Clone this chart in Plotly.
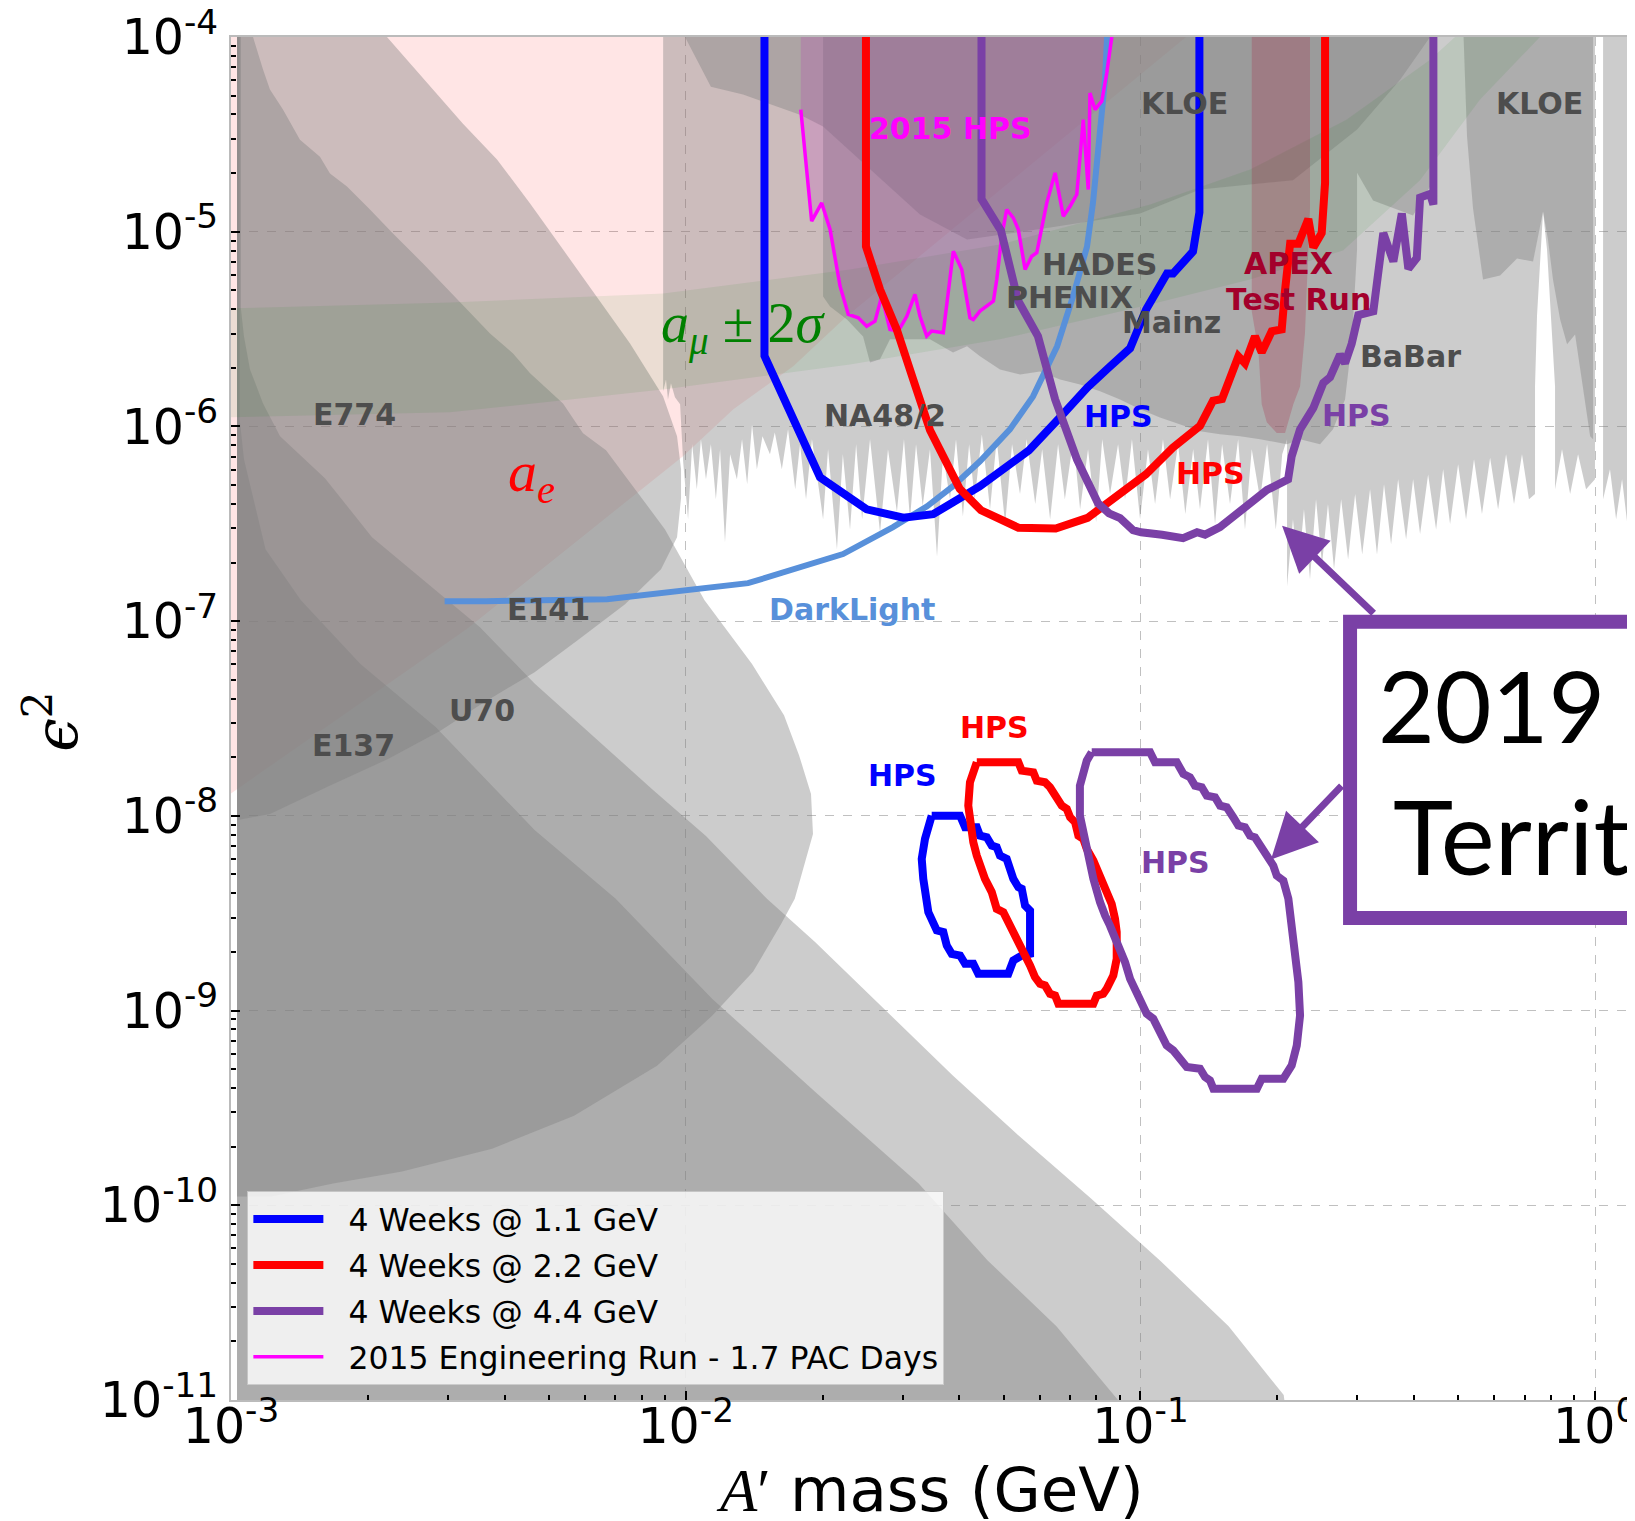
import numpy as np
import plotly.graph_objects as go

# ---------------- colours ----------------
BLUE = "#0000FF"
RED = "#FF0000"
PURPLE = "#7A40A6"
MAGENTA = "#FF00FF"
DLBLUE = "#5890DA"
GRAY_TXT = "#4D4D4D"
APEX_TXT = "#A3002B"
LAYER = "rgba(128,128,128,0.4)"

# ---------------- HPS reach (upper curves) ----------------
hps11_m = [0.0149, 0.0149, 0.01974, 0.0250, 0.0301, 0.0350, 0.04437, 0.0569, 0.0669, 0.0765, 0.0853,
           0.0949, 0.1029, 0.1144, 0.118, 0.1305, 0.1348, 0.1348]
hps11_e = [1.2e-4, 2.30e-6, 5.48e-7, 3.75e-7, 3.40e-7, 3.54e-7, 4.93e-7, 7.54e-7, 1.127e-6, 1.59e-6, 2.01e-6,
           2.52e-6, 3.99e-6, 6.10e-6, 6.10e-6, 7.91e-6, 1.255e-5, 1.2e-4]

hps22_m = [0.02491, 0.02491, 0.02675, 0.02911, 0.03163, 0.03446, 0.04005, 0.04460, 0.05389, 0.06511, 0.0765,
           0.0899, 0.1029, 0.1178, 0.1352, 0.1444, 0.1512, 0.1642, 0.1698, 0.1786, 0.1848, 0.1944, 0.2045,
           0.2080, 0.2134, 0.2225, 0.2340, 0.2400, 0.2504, 0.2547, 0.2547]
hps22_e = [1.2e-4, 8.42e-6, 5.05e-6, 3.15e-6, 1.746e-6, 9.55e-7, 4.78e-7, 3.71e-7, 3.02e-7, 2.99e-7, 3.39e-7,
           4.52e-7, 5.68e-7, 7.78e-7, 1.007e-6, 1.355e-6, 1.384e-6, 2.29e-6, 2.11e-6, 2.90e-6, 2.40e-6, 3.08e-6,
           3.15e-6, 5.01e-6, 8.67e-6, 8.67e-6, 1.164e-5, 8.31e-6, 9.84e-6, 1.776e-5, 1.2e-4]

hps44_m = [0.04472, 0.04472, 0.04935, 0.05380, 0.05953, 0.06492, 0.07255, 0.08067, 0.0853, 0.0902, 0.0963,
           0.1003, 0.1116, 0.1241, 0.1332, 0.1387, 0.1496, 0.1742, 0.1898, 0.2112, 0.2151, 0.2244, 0.2400,
           0.2524, 0.2612, 0.2748, 0.2818, 0.2915, 0.3014, 0.3252, 0.3421, 0.3599, 0.3757, 0.3883, 0.4052,
           0.4121, 0.4335, 0.4408, 0.4408]
hps44_e = [1.2e-4, 1.472e-5, 1.014e-5, 4.43e-6, 2.90e-6, 1.377e-6, 6.74e-7, 4.03e-7, 3.58e-7, 3.38e-7, 2.93e-7,
           2.86e-7, 2.78e-7, 2.67e-7, 2.86e-7, 2.78e-7, 3.04e-7, 3.98e-7, 4.72e-7, 5.35e-7, 7.03e-7, 9.66e-7,
           1.245e-6, 1.671e-6, 1.786e-6, 2.34e-6, 2.11e-6, 2.66e-6, 3.73e-6, 3.90e-6, 9.84e-6, 7.03e-6,
           1.240e-5, 6.46e-6, 7.32e-6, 1.498e-5, 1.564e-5, 1.379e-5, 1.2e-4]

# ---------------- HPS reach (lower closed contours) ----------------
loop11_m = [0.03475, 0.04012, 0.04115, 0.04366, 0.04437, 0.04592, 0.0471, 0.0483, 0.0491, 0.0508, 0.05253,
            0.05389, 0.05483, 0.05575, 0.05718, 0.05718, 0.05483, 0.05253, 0.05122, 0.04399, 0.0429, 0.04115,
            0.04012, 0.03846, 0.03750, 0.03685, 0.03565, 0.03416, 0.03330, 0.03304, 0.03359, 0.03388, 0.03475]
loop11_e = [1.002e-8, 1.002e-8, 8.74e-9, 8.74e-9, 7.91e-9, 7.76e-9, 7.03e-9, 6.90e-9, 6.25e-9, 6.01e-9, 4.75e-9,
            4.30e-9, 4.22e-9, 3.46e-9, 3.26e-9, 1.956e-9, 1.917e-9, 1.807e-9, 1.545e-9, 1.545e-9, 1.738e-9,
            1.738e-9, 1.917e-9, 1.956e-9, 2.158e-9, 2.53e-9, 2.58e-9, 3.20e-9, 4.75e-9, 6.01e-9, 7.61e-9,
            8.40e-9, 1.002e-8]

loop22_m = [0.04366, 0.05389, 0.05483, 0.05814, 0.05916, 0.06169, 0.06327, 0.06546, 0.06714, 0.06887, 0.07004,
            0.07184, 0.07304, 0.07487, 0.07621, 0.07878, 0.08015, 0.08285, 0.08430, 0.08646, 0.08791, 0.08868,
            0.08868, 0.08717, 0.08430, 0.08285, 0.08015, 0.07878, 0.06600, 0.06492, 0.06327, 0.06169, 0.06015,
            0.05862, 0.05718, 0.05528, 0.05212, 0.04995, 0.0483, 0.0471, 0.04551, 0.04437, 0.04366, 0.0429,
            0.04218, 0.04182, 0.04218, 0.0429, 0.04366]
loop22_e = [1.884e-8, 1.884e-8, 1.706e-8, 1.674e-8, 1.516e-8, 1.487e-8, 1.402e-8, 1.221e-8, 1.128e-8, 1.085e-8,
            9.84e-9, 9.27e-9, 7.91e-9, 7.61e-9, 6.76e-9, 5.89e-9, 5.34e-9, 4.65e-9, 4.06e-9, 3.53e-9, 2.96e-9,
            2.53e-9, 1.845e-9, 1.514e-9, 1.294e-9, 1.219e-9, 1.195e-9, 1.084e-9, 1.084e-9, 1.195e-9, 1.219e-9,
            1.346e-9, 1.373e-9, 1.486e-9, 1.703e-9, 1.995e-9, 2.63e-9, 3.20e-9, 3.33e-9, 4.06e-9, 4.75e-9,
            5.55e-9, 6.25e-9, 7.32e-9, 9.27e-9, 1.128e-8, 1.487e-8, 1.740e-8, 1.884e-8]

loop44_m = [0.07814, 0.1050, 0.1077, 0.1202, 0.1243, 0.1285, 0.1318, 0.1364, 0.1399, 0.1459, 0.1497, 0.1548,
            0.1600, 0.1642, 0.1698, 0.1742, 0.1786, 0.1848, 0.1911, 0.1960, 0.1994, 0.2062, 0.2115, 0.2188,
            0.2225, 0.2244, 0.2207, 0.2151, 0.2062, 0.1848, 0.1803, 0.1447, 0.1422, 0.1387, 0.1352, 0.1264,
            0.1181, 0.1142, 0.1104, 0.1067, 0.1032, 0.0989, 0.0949, 0.0925, 0.0902, 0.0857, 0.0836, 0.0815,
            0.0788, 0.0768, 0.0755, 0.0736, 0.0736, 0.0749, 0.0762, 0.07814]
loop44_e = [2.12e-8, 2.12e-8, 1.884e-8, 1.884e-8, 1.641e-8, 1.578e-8, 1.429e-8, 1.402e-8, 1.27e-8, 1.246e-8,
            1.128e-8, 1.107e-8, 9.84e-9, 8.91e-9, 8.74e-9, 7.91e-9, 7.76e-9, 6.76e-9, 6.01e-9, 5.55e-9, 4.93e-9,
            4.65e-9, 3.75e-9, 2.075e-9, 1.400e-9, 9.44e-10, 6.62e-10, 5.23e-10, 4.47e-10, 4.47e-10, 3.97e-10,
            3.97e-10, 4.38e-10, 4.56e-10, 5.03e-10, 5.13e-10, 6.24e-10, 6.62e-10, 7.76e-10, 9.08e-10, 9.63e-10,
            1.194e-9, 1.455e-9, 1.774e-9, 2.075e-9, 2.73e-9, 3.08e-9, 3.60e-9, 4.75e-9, 6.50e-9, 7.91e-9,
            1.002e-8, 1.429e-8, 1.674e-8, 1.92e-8, 2.12e-8]

# ---------------- 2015 engineering run ----------------
run15_m = [0.01791, 0.01892, 0.01991, 0.02077, 0.02185, 0.02278, 0.02396, 0.0250, 0.02608, 0.02698, 0.02813,
           0.02935, 0.03063, 0.03193, 0.03275, 0.03388, 0.03475, 0.03685, 0.03877, 0.04046, 0.04218, 0.0429,
           0.04437, 0.0475, 0.04831, 0.04955, 0.0508, 0.05253, 0.05388, 0.05576, 0.05768, 0.05916, 0.06223,
           0.06492, 0.06767, 0.07004, 0.07244, 0.07487, 0.07678, 0.07745, 0.07944, 0.08222, 0.08432, 0.0865]
run15_e = [4.24e-5, 1.133e-5, 1.406e-5, 1.026e-5, 5.25e-6, 3.76e-6, 3.61e-6, 3.27e-6, 3.47e-6, 4.67e-6, 3.15e-6,
           3.09e-6, 3.68e-6, 4.76e-6, 3.68e-6, 2.91e-6, 3.09e-6, 3.03e-6, 7.94e-6, 6.40e-6, 3.61e-6, 3.54e-6,
           3.91e-6, 4.40e-6, 5.69e-6, 9.48e-6, 1.30e-5, 1.178e-5, 1.026e-5, 6.40e-6, 7.48e-6, 7.80e-6, 1.406e-5,
           2.006e-5, 1.201e-5, 1.352e-5, 1.552e-5, 3.76e-5, 1.646e-5, 5.16e-5, 4.24e-5, 4.68e-5, 6.53e-5, 1.0e-4]

# ---------------- DarkLight ----------------
dl_m = [0.00295, 0.003638, 0.006714, 0.01371, 0.02218, 0.02857, 0.03394, 0.03871, 0.04437, 0.05164, 0.05805,
        0.06558, 0.07109, 0.07630, 0.07866, 0.08150, 0.08359, 0.08445]
dl_e = [1.266e-7, 1.266e-7, 1.297e-7, 1.567e-7, 2.21e-7, 3.04e-7, 3.89e-7, 4.93e-7, 6.62e-7, 9.66e-7, 1.427e-6,
        2.58e-6, 4.65e-6, 8.39e-6, 1.413e-5, 3.35e-5, 6.04e-5, 1.0e-4]

# ---------------- a_e and a_mu bands ----------------
ae_m = [9.5e-4, 3.30e-3, 9.865e-3, 1.273e-2, 1.724e-2, 2.26e-2, 0.126, 0.14, 9.5e-4]
ae_e = [1.2e-8, 9.1e-8, 7.03e-7, 1.225e-6, 2.04e-6, 3.68e-6, 1.0e-4, 1.2e-4, 1.2e-4]

amu_lo_m = [9.5e-4, 3.031e-3, 9.006e-3, 2.298e-2, 4.911e-2, 0.105, 0.1742, 0.2790, 0.412, 0.5584, 0.7562, 0.80]
amu_lo_e = [1.11e-6, 1.181e-6, 1.55e-6, 2.08e-6, 2.80e-6, 4.23e-6, 5.69e-6, 8.01e-6, 1.839e-5, 4.77e-5, 1.0e-4, 1.25e-4]
amu_hi_m = [0.52, 0.4918, 0.4335, 0.2837, 0.1742, 0.105, 4.911e-2, 2.298e-2, 8.915e-3, 3.031e-3, 9.5e-4]
amu_hi_e = [1.25e-4, 1.0e-4, 7.64e-5, 3.76e-5, 2.085e-5, 1.379e-5, 8.59e-6, 6.40e-6, 4.82e-6, 4.33e-6, 4.03e-6]

# ---------------- beam dump regions (left) ----------------
l1_m = [1.031e-3, 1.045e-3, 1.045e-3, 1.068e-3, 1.191e-3, 1.425e-3, 1.926e-3, 2.818e-3, 4.652e-3, 7.015e-3,
        1.143e-2, 1.925e-2, 3.253e-2, 4.613e-2, 6.535e-2, 8.926e-2, 9.3e-2, 1.031e-3]
l1_e = [1.2e-4, 1.2e-4, 1.087e-6, 6.78e-7, 2.34e-7, 1.282e-7, 6.02e-8, 2.86e-8, 8.46e-9, 3.75e-9, 1.15e-9,
        3.83e-10, 1.295e-10, 5.21e-11, 2.39e-11, 1.0e-11, 5e-12, 5e-12]

l2_m = [1.031e-3, 1.052e-3, 1.052e-3, 1.068e-3, 1.101e-3, 1.176e-3, 1.282e-3, 1.609e-3, 2.042e-3, 2.604e-3,
        3.528e-3, 4.652e-3, 6.284e-3, 8.475e-3, 1.108e-2, 1.509e-2, 1.925e-2, 2.731e-2, 3.872e-2, 5.49e-2,
        7.787e-2, 0.1104, 0.1563, 0.2066, 0.215, 1.031e-3]
l2_e = [1.2e-4, 1.2e-4, 3.99e-6, 2.90e-6, 1.963e-6, 1.313e-6, 8.90e-7, 5.42e-7, 2.70e-7, 1.681e-7, 9.31e-8,
        4.78e-8, 2.54e-8, 1.358e-8, 7.88e-9, 3.75e-9, 2.25e-9, 1.022e-9, 4.63e-10, 2.20e-10, 1.083e-10,
        5.21e-11, 2.39e-11, 1.06e-11, 5e-12, 5e-12]

u70_m = [1.031e-3, 1.118e-3, 1.118e-3, 1.176e-3, 1.218e-3, 1.301e-3, 1.418e-3, 1.569e-3, 1.651e-3, 1.799e-3,
         2.021e-3, 2.271e-3, 2.644e-3, 3.141e-3, 3.712e-3, 4.171e-3, 4.547e-3, 5.373e-3, 5.945e-3, 6.679e-3,
         9.006e-3, 1.0999e-2, 1.399e-2, 1.645e-2, 1.775e-2, 1.886e-2, 1.905e-2, 1.737e-2, 1.621e-2, 1.406e-2,
         1.143e-2, 8.647e-3, 5.68e-3, 3.75e-3, 2.377e-3, 1.676e-3, 1.224e-3, 1.031e-3]
u70_e = [1.2e-4, 1.2e-4, 1.0e-4, 6.80e-5, 5.37e-5, 4.24e-5, 2.97e-5, 2.43e-5, 1.989e-5, 1.705e-5, 1.300e-5,
         9.79e-6, 6.87e-6, 4.49e-6, 3.00e-6, 2.37e-6, 1.873e-6, 1.313e-6, 9.22e-7, 7.54e-7, 2.96e-7, 1.282e-7,
         6.02e-8, 3.29e-8, 2.05e-8, 1.296e-8, 8.07e-9, 3.75e-9, 2.78e-9, 1.582e-9, 9.40e-10, 5.21e-10,
         2.885e-10, 1.954e-10, 1.489e-10, 1.295e-10, 1.11e-10, 1.11e-10]

e141_m = [1.031e-3, 2.203e-3, 2.203e-3, 2.739e-3, 3.237e-3, 3.846e-3, 4.547e-3, 5.373e-3, 6.381e-3, 7.543e-3,
          8.915e-3, 9.570e-3, 9.766e-3, 9.766e-3, 9.570e-3, 8.825e-3, 7.355e-3, 5.795e-3, 4.652e-3, 3.583e-3,
          2.881e-3, 2.214e-3, 1.643e-3, 1.218e-3, 1.036e-3, 1.031e-3]
e141_e = [1.2e-4, 1.2e-4, 1.0e-4, 5.56e-5, 3.59e-5, 2.35e-5, 1.395e-5, 8.10e-6, 4.65e-6, 2.67e-6, 1.427e-6,
          8.90e-7, 6.02e-7, 4.28e-7, 2.70e-7, 1.849e-7, 1.222e-7, 7.99e-8, 5.47e-8, 3.80e-8, 2.73e-8, 1.959e-8,
          1.423e-8, 1.023e-8, 9.53e-9, 9.5e-9]

# ---------------- collider / fixed target regions (right) ----------------
p1_m = [8.92e-3, 8.92e-3, 9.05e-3, 9.14e-3, 9.28e-3, 9.47e-3, 9.72e-3, 9.87e-3,
        1.012e-2, 1.033e-2, 1.058e-2, 1.080e-2, 1.108e-2, 1.136e-2, 1.165e-2, 1.190e-2, 1.220e-2, 1.252e-2,
        1.296e-2, 1.330e-2, 1.365e-2, 1.399e-2, 1.434e-2, 1.475e-2, 1.532e-2, 1.570e-2, 1.627e-2, 1.679e-2,
        1.741e-2, 1.784e-2, 1.839e-2, 1.895e-2, 2.005e-2, 2.056e-2, 2.151e-2, 2.216e-2, 2.298e-2, 2.370e-2,
        2.443e-2, 2.543e-2, 2.675e-2, 2.785e-2, 2.914e-2, 3.020e-2, 3.113e-2, 3.210e-2, 3.320e-2, 3.445e-2,
        3.570e-2, 3.680e-2, 3.813e-2, 3.930e-2, 4.07e-2, 4.20e-2, 4.32e-2, 4.48e-2, 4.669e-2, 4.83e-2,
        5.04e-2, 5.22e-2, 5.435e-2, 5.62e-2, 5.87e-2, 6.08e-2, 6.329e-2, 6.59e-2, 6.82e-2, 7.12e-2,
        7.367e-2, 7.67e-2, 7.99e-2, 8.24e-2, 8.574e-2, 8.93e-2, 9.25e-2, 9.58e-2, 9.98e-2, 0.1039,
        0.1077, 0.1121, 0.1162, 0.1210, 0.1255, 0.1306, 0.1352, 0.1408, 0.1459, 0.1512,
        0.1574, 0.1640, 0.1698, 0.1757, 0.1833, 0.1899, 0.1985, 0.2050, 0.2101,
        0.2101, 0.2165, 0.2222, 0.2289, 0.2360, 0.2433, 0.2508, 0.2585, 0.2665, 0.2763, 0.2862, 0.2966,
        0.3074, 0.3199, 0.3313, 0.3433, 0.3558, 0.3687, 0.3839, 0.3978, 0.4121, 0.4292, 0.4469, 0.4631,
        0.4797, 0.4996, 0.5201, 0.5415, 0.5638, 0.5875, 0.6117, 0.6369, 0.6631, 0.6904, 0.7152, 0.7375,
        0.7375, 0.7451, 0.7568, 0.7680, 0.7837, 0.7998, 0.8162, 0.8162, 0.8455, 0.8811, 0.9171, 0.9550,
        0.999, 0.999]
p1_e = [1.2e-4, 1.514e-6, 1.744e-6, 1.377e-6, 1.664e-6, 1.41e-6, 1.30e-6, 6.62e-7,
        3.34e-7, 8.1e-7, 4.76e-7, 8.59e-7, 5.35e-7, 8.1e-7, 4.23e-7, 7.63e-7, 2.54e-7, 7.2e-7,
        5.35e-7, 8.59e-7, 5.05e-7, 1.02e-6, 6.02e-7, 8.9e-7, 7.2e-7, 9.3e-7, 6.02e-7, 9.66e-7,
        4.76e-7, 8.1e-7, 4.23e-7, 8.59e-7, 3.34e-7, 7.63e-7, 2.34e-7, 7.2e-7, 2.96e-7, 8.1e-7,
        3.34e-7, 8.59e-7, 2.86e-7, 7.63e-7, 3.64e-7, 8.59e-7, 3.34e-7, 8.1e-7, 3.9e-7, 7.63e-7,
        2.15e-7, 7.2e-7, 4.23e-7, 8.59e-7, 3.46e-7, 8.1e-7, 4.23e-7, 9.1e-7, 3.76e-7, 8.59e-7,
        3.15e-7, 8.1e-7, 4.5e-7, 8.59e-7, 4.0e-7, 7.63e-7, 3.34e-7, 8.1e-7, 4.23e-7, 8.59e-7,
        3.76e-7, 7.63e-7, 3.23e-7, 8.59e-7, 4.5e-7, 8.1e-7, 4.23e-7, 8.59e-7, 3.34e-7, 7.63e-7,
        4.0e-7, 8.59e-7, 4.23e-7, 8.1e-7, 3.55e-7, 7.63e-7, 3.76e-7, 8.59e-7, 3.15e-7, 8.1e-7,
        4.0e-7, 8.59e-7, 2.96e-7, 7.63e-7, 4.23e-7, 8.1e-7, 2.96e-7, 7.2e-7, 8.59e-7,
        1.51e-7, 3.34e-7, 1.75e-7, 3.76e-7, 1.64e-7, 4.23e-7, 1.96e-7, 4.0e-7, 1.85e-7, 4.23e-7, 2.08e-7, 4.5e-7,
        2.2e-7, 4.76e-7, 2.2e-7, 5.05e-7, 2.48e-7, 5.35e-7, 2.63e-7, 5.35e-7, 2.8e-7, 5.67e-7, 2.96e-7, 6.02e-7,
        3.15e-7, 6.4e-7, 3.34e-7, 6.78e-7, 3.55e-7, 6.9e-7, 3.76e-7, 7.2e-7, 4.0e-7, 7.2e-7, 4.23e-7, 4.5e-7,
        1.607e-6, 3.72e-6, 7.2e-6, 1.27e-5, 8.1e-6, 3.72e-6, 1.607e-6, 4.76e-7, 7.63e-7, 4.5e-7, 7.2e-7, 4.76e-7,
        5.35e-7, 1.2e-4]

p1b_m = [1.041, 1.041, 1.078, 1.112, 1.146, 1.181, 1.255, 1.255]
p1b_e = [1.2e-4, 4.23e-7, 6.02e-7, 3.34e-7, 5.35e-7, 2.96e-7, 4.76e-7, 1.2e-4]

gmid_m = [2.005e-2, 2.005e-2, 2.077e-2, 2.263e-2, 2.455e-2, 2.543e-2, 2.675e-2, 2.813e-2, 3.445e-2, 3.871e-2,
          4.156e-2, 4.438e-2, 4.911e-2, 5.435e-2, 6.014e-2, 6.657e-2, 7.367e-2, 8.150e-2, 9.019e-2, 9.98e-2,
          0.1104, 0.1222, 0.1352, 0.1497, 0.1656, 0.1833, 0.2101, 0.2244, 0.2483, 0.2652, 0.2818, 0.2920,
          0.2995, 0.2995, 0.3248, 0.3977, 0.4335, 0.4335]
gmid_e = [1.2e-4, 4.65e-6, 4.13e-6, 3.54e-6, 2.90e-6, 2.13e-6, 2.21e-6, 2.80e-6, 2.80e-6, 2.40e-6, 2.58e-6,
          2.29e-6, 1.963e-6, 1.85e-6, 1.917e-6, 1.744e-6, 1.644e-6, 1.514e-6, 1.377e-6, 1.224e-6, 1.113e-6,
          1.025e-6, 9.44e-7, 9.11e-7, 8.9e-7, 8.59e-7, 8.1e-7, 8.59e-7, 8.1e-7, 9.66e-7, 1.377e-6, 2.80e-6,
          8.10e-6, 2.01e-5, 1.445e-5, 1.211e-5, 1.706e-5, 1.2e-4]

gtop_m = [9.965e-3, 1.136e-2, 1.337e-2, 1.784e-2, 2.005e-2, 2.543e-2, 3.275e-2, 4.156e-2, 6.329e-2, 9.98e-2,
          0.1352, 0.2165, 0.2995, 0.3724, 0.4335, 0.4335, 9.965e-3]
gtop_e = [1.0e-4, 5.56e-5, 5.06e-5, 3.99e-5, 3.47e-5, 2.085e-5, 1.226e-5, 9.12e-6, 1.05e-5, 1.24e-5, 1.646e-5,
          1.839e-5, 3.35e-5, 6.04e-5, 1.0e-4, 1.2e-4, 1.2e-4]

kloe_m = [0.5123, 0.5227, 0.5388, 0.5668, 0.6180, 0.6732, 0.7301, 0.7490, 0.7680, 0.7875, 0.8077, 0.8376,
          0.8675, 0.9034, 0.9406, 0.9750, 0.9895, 0.9895]
kloe_e = [1.2e-4, 3.08e-5, 1.315e-5, 5.69e-6, 5.96e-6, 7.29e-6, 7.03e-6, 9.67e-6, 1.27e-5, 9.12e-6, 5.69e-6,
          3.54e-6, 2.64e-6, 2.97e-6, 1.55e-6, 8.9e-7, 8.59e-7, 1.2e-4]

apex_m = [0.1757, 0.1757, 0.1817, 0.1848, 0.1896, 0.1994, 0.2080, 0.2169, 0.2244, 0.2301, 0.2360, 0.2360]
apex_e = [1.2e-4, 3.90e-6, 2.46e-6, 1.298e-6, 1.05e-6, 9.26e-7, 9.26e-7, 1.298e-6, 1.605e-6, 3.02e-6, 1.321e-5, 1.2e-4]

# ---------------- labels (text, mass, eps^2, colour) ----------------
region_labels = [
    ("E774", 1.869e-3, 1.153e-6, GRAY_TXT),
    ("E141", 4.994e-3, 1.152e-7, GRAY_TXT),
    ("U70", 3.565e-3, 3.47e-8, GRAY_TXT),
    ("E137", 1.86e-3, 2.30e-8, GRAY_TXT),
    ("NA48/2", 2.744e-2, 1.140e-6, GRAY_TXT),
    ("KLOE", 0.1253, 4.55e-5, GRAY_TXT),
    ("KLOE", 0.7562, 4.55e-5, GRAY_TXT),
    ("HADES", 0.0811, 6.79e-6, GRAY_TXT),
    ("PHENIX", 0.0697, 4.57e-6, GRAY_TXT),
    ("Mainz", 0.1168, 3.42e-6, GRAY_TXT),
    ("BaBar", 0.3917, 2.29e-6, GRAY_TXT),
    ("APEX", 0.2112, 6.87e-6, APEX_TXT),
    ("Test Run", 0.2221, 4.49e-6, APEX_TXT),
    ("2015 HPS", 3.827e-2, 3.40e-5, MAGENTA),
    ("HPS", 0.0897, 1.127e-6, BLUE),
    ("HPS", 0.2979, 1.140e-6, PURPLE),
    ("HPS", 0.1429, 5.71e-7, RED),
    ("DarkLight", 2.32e-2, 1.152e-7, DLBLUE),
    ("HPS", 0.04764, 2.86e-8, RED),
    ("HPS", 0.02998, 1.612e-8, BLUE),
    ("HPS", 0.1192, 5.73e-9, PURPLE),
]

NB = "\u00a0\u00a0"
legend_names = [NB + "4 Weeks @ 1.1 GeV", NB + "4 Weeks @ 2.2 GeV", NB + "4 Weeks @ 4.4 GeV",
                NB + "2015 Engineering Run - 1.7 PAC Days"]

# ---------------- figure ----------------
fig = go.Figure()


def region(xs, ys, color):
    fig.add_trace(go.Scatter(x=xs, y=ys, mode="lines", fill="toself", fillcolor=color,
                             line=dict(width=0), hoverinfo="skip", showlegend=False))


region(ae_m, ae_e, "rgba(255,0,0,0.10)")
for xs, ys in [(l1_m, l1_e), (l2_m, l2_e), (u70_m, u70_e), (e141_m, e141_e),
               (p1_m, p1_e), (p1b_m, p1b_e), (gmid_m, gmid_e), (gtop_m, gtop_e), (kloe_m, kloe_e)]:
    region(xs, ys, LAYER)
region(amu_lo_m + amu_hi_m, amu_lo_e + amu_hi_e, "rgba(0,128,0,0.08)")
region(apex_m, apex_e, "rgba(170,0,40,0.20)")
region(run15_m + [run15_m[-1], run15_m[0]], run15_e + [1.2e-4, 1.2e-4], "rgba(190,0,190,0.15)")

# lines
fig.add_trace(go.Scatter(x=dl_m, y=dl_e, mode="lines", line=dict(color=DLBLUE, width=6),
                         hoverinfo="skip", showlegend=False))
fig.add_trace(go.Scatter(x=run15_m, y=run15_e, mode="lines", line=dict(color=MAGENTA, width=3.5),
                         name=legend_names[3], legendgroup="g4", legendrank=4, hoverinfo="skip"))
for (um, ue, lm, le, col, nm, g, rk) in [
        (hps11_m, hps11_e, loop11_m, loop11_e, BLUE, legend_names[0], "g1", 1),
        (hps22_m, hps22_e, loop22_m, loop22_e, RED, legend_names[1], "g2", 2),
        (hps44_m, hps44_e, loop44_m, loop44_e, PURPLE, legend_names[2], "g3", 3)]:
    fig.add_trace(go.Scatter(x=um, y=ue, mode="lines", line=dict(color=col, width=8),
                             name=nm, legendgroup=g, legendrank=rk, hoverinfo="skip"))
    fig.add_trace(go.Scatter(x=lm, y=le, mode="lines", line=dict(color=col, width=8),
                             legendgroup=g, showlegend=False, hoverinfo="skip"))

annotations = []
for txt, m, e, col in region_labels:
    annotations.append(dict(x=np.log10(m), y=np.log10(e), xref="x", yref="y", text="<b>%s</b>" % txt,
                            showarrow=False, xanchor="center", yanchor="middle",
                            font=dict(family="DejaVu Sans", size=30, color=col)))

annotations.append(dict(x=np.log10(4.57e-3), y=np.log10(5.61e-7), xref="x", yref="y",
                        text="<i>a</i><sub><i>e</i></sub>", showarrow=False,
                        font=dict(family="Liberation Serif", size=58, color=RED)))
annotations.append(dict(x=np.log10(1.337e-2), y=np.log10(3.22e-6), xref="x", yref="y",
                        text="<i>a</i><sub><i>μ</i></sub> ± 2<i>σ</i>", showarrow=False,
                        font=dict(family="Liberation Serif", size=56, color="#008000")))

# axis titles
annotations.append(dict(x=0.4996, y=-0.0653, xref="paper", yref="paper", showarrow=False,
                        xanchor="center", yanchor="middle",
                        text='<span style="font-family:Liberation Serif"><i>A</i>′</span> mass (GeV)',
                        font=dict(family="DejaVu Sans", size=61, color="black")))
annotations.append(dict(x=-0.128, y=0.4975, xref="paper", yref="paper", showarrow=False,
                        xanchor="center", yanchor="middle", textangle=-90,
                        text="<i>ϵ</i><sup>2</sup>",
                        font=dict(family="DejaVu Serif", size=60, color="black")))

# 2019 territory call-out
annotations.append(dict(x=0.8185, y=0.510, xref="paper", yref="paper", showarrow=False,
                        xanchor="left", yanchor="middle", text="2019",
                        font=dict(family="Lato", size=98, color="black")))
annotations.append(dict(x=0.8290, y=0.4139, xref="paper", yref="paper", showarrow=False,
                        xanchor="left", yanchor="middle", text="Territory",
                        font=dict(family="Lato", size=102, color="black")))
for (hx, hy, ax, ay) in [(0.7513, 0.6414, 93, 89), (0.7434, 0.3966, 72, -75)]:
    annotations.append(dict(x=hx, y=hy, xref="paper", yref="paper", text="", showarrow=True,
                            ax=ax, ay=ay, axref="pixel", ayref="pixel", arrowhead=2, arrowsize=1.3,
                            arrowwidth=7, arrowcolor=PURPLE, standoff=0, startstandoff=0))

shapes = [dict(type="rect", xref="paper", yref="paper", x0=0.7999, x1=1.3, y0=0.3537, y1=0.5709,
               line=dict(color=PURPLE, width=14), fillcolor="white", layer="above")]

x_major = [1e-3, 1e-2, 1e-1, 1.0]
x_text = ["10<sup>-3</sup>", "10<sup>-2</sup>", "10<sup>-1</sup>", "10<sup>0</sup>"]
y_major = [10.0 ** k for k in range(-11, -3)]
y_text = ["10<sup>%d</sup>" % k for k in range(-11, -3)]
x_minor = [d * 10.0 ** k for k in range(-3, 1) for d in range(2, 10)]
y_minor = [d * 10.0 ** k for k in range(-11, -4) for d in range(2, 10)]

axis_common = dict(type="log", showgrid=True, gridcolor="rgba(150,150,150,0.6)", griddash="dash",
                   gridwidth=1, showline=True, linecolor="#BBBBBB", linewidth=2, mirror=True,
                   ticks="inside", ticklen=9, tickwidth=1.5, tickcolor="black", zeroline=False,
                   automargin=False, ticklabeloverflow="allow",
                   tickfont=dict(family="DejaVu Sans", size=49, color="black"))

# the page body adds an 8px offset; margins compensate so the plot area sits where the reference has it
fig.update_layout(
    width=1635, height=1521,
    margin=dict(l=223, r=13, t=29, b=129, autoexpand=False),
    paper_bgcolor="white", plot_bgcolor="white",
    xaxis=dict(range=[-3, np.log10(1.193)], tickvals=x_major, ticktext=x_text, ticklabelstandoff=-18,
               minor=dict(tickvals=x_minor, ticks="inside", ticklen=5, tickcolor="black", showgrid=False),
               **axis_common),
    yaxis=dict(range=[-11, -4], tickvals=y_major, ticktext=y_text, ticklabelstandoff=1,
               minor=dict(tickvals=y_minor, ticks="inside", ticklen=5, tickcolor="black", showgrid=False),
               **axis_common),
    legend=dict(x=0.0117, y=0.011, xanchor="left", yanchor="bottom", bgcolor="rgba(255,255,255,0.8)",
                bordercolor="rgba(200,200,200,0.9)", borderwidth=1, itemwidth=70, tracegroupgap=2,
                font=dict(family="DejaVu Sans", size=31.5, color="black")),
    annotations=annotations,
    shapes=shapes,
    showlegend=True,
)

fig.write_html("out.html", include_plotlyjs=True, config={"displayModeBar": False})
